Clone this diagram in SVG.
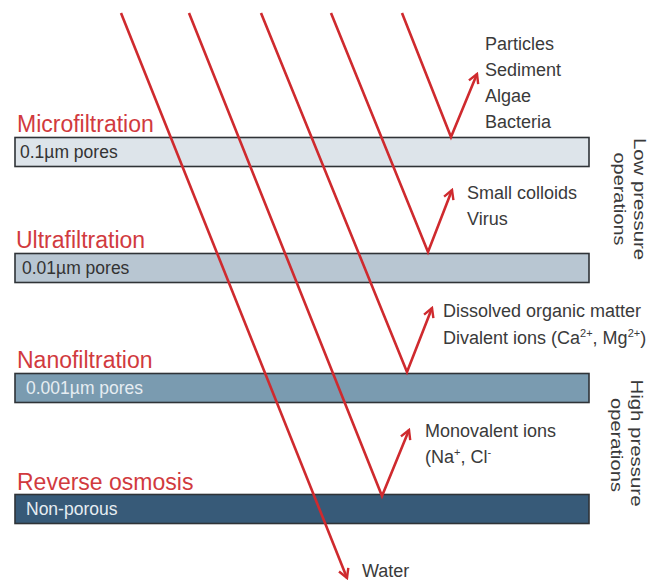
<svg xmlns="http://www.w3.org/2000/svg" width="659" height="582" viewBox="0 0 659 582">
<defs>
<style>
.bar{stroke:#2f3337;stroke-width:1.6}
.title{font-family:"Liberation Sans",Arial,sans-serif;font-size:23px;fill:#d13a3e}
.pore{font-family:"Liberation Sans",Arial,sans-serif;font-size:17.5px}
.lbl{font-family:"Liberation Sans",Arial,sans-serif;font-size:18px;fill:#3a3a3a}
.side{font-family:"Liberation Sans",Arial,sans-serif;font-size:16px;fill:#3a3a3a}
.ray{stroke:#cf2a2e;stroke-width:2.6;fill:none}
.sup{font-size:11px}
</style>
<marker id="ah" viewBox="0 0 12 12" refX="10" refY="6" markerWidth="12" markerHeight="12" markerUnits="userSpaceOnUse" orient="auto">
<path d="M1,1 L10,6 L1,11" fill="none" stroke="#cf2a2e" stroke-width="2.4" stroke-linejoin="miter"/>
</marker>
</defs>
<rect width="659" height="582" fill="#ffffff"/>

<g id="microfiltration">
<text class="title" x="17" y="132">Microfiltration</text>
<rect class="bar" x="15" y="137.5" width="574" height="29" fill="#dde4ea"/>
<text class="pore" x="20" y="158" fill="#333333">0.1µm pores</text>
</g>
<g id="ultrafiltration">
<text class="title" x="16" y="248">Ultrafiltration</text>
<rect class="bar" x="15" y="253.5" width="574" height="29" fill="#b8c6d2"/>
<text class="pore" x="22" y="274" fill="#333333">0.01µm pores</text>
</g>
<g id="nanofiltration">
<text class="title" x="17" y="368">Nanofiltration</text>
<rect class="bar" x="15" y="373.5" width="574" height="29" fill="#7a9bb0"/>
<text class="pore" x="26" y="394" fill="#e6edf2">0.001µm pores</text>
</g>
<g id="reverse-osmosis">
<text class="title" x="17" y="490">Reverse osmosis</text>
<rect class="bar" x="15" y="494.5" width="574" height="29" fill="#375a78"/>
<text class="pore" x="26" y="515" fill="#e6edf2">Non-porous</text>
</g>

<g id="connectors">
<line class="ray" x1="121" y1="13" x2="347" y2="578" marker-end="url(#ah)"/>
<polyline class="ray" points="189,13 382,496 409,430" marker-end="url(#ah)"/>
<polyline class="ray" points="261,13 407,372 432,308" marker-end="url(#ah)"/>
<polyline class="ray" points="331,13 428,252 452,190" marker-end="url(#ah)"/>
<polyline class="ray" points="402,13 451,137 477,74" marker-end="url(#ah)"/>
</g>

<g id="label-mf">
<text class="lbl" x="485" y="50">Particles</text>
<text class="lbl" x="485" y="76">Sediment</text>
<text class="lbl" x="485" y="102">Algae</text>
<text class="lbl" x="485" y="128">Bacteria</text>
</g>
<g id="label-uf">
<text class="lbl" x="467" y="199">Small colloids</text>
<text class="lbl" x="467" y="225">Virus</text>
</g>
<g id="label-nf">
<text class="lbl" x="443" y="317">Dissolved organic matter</text>
<text class="lbl" x="443" y="344">Divalent ions (Ca<tspan class="sup" dy="-7">2+</tspan><tspan dy="7">, Mg</tspan><tspan class="sup" dy="-7">2+</tspan><tspan dy="7">)</tspan></text>
</g>
<g id="label-ro">
<text class="lbl" x="425" y="437">Monovalent ions</text>
<text class="lbl" x="425" y="463">(Na<tspan class="sup" dy="-7">+</tspan><tspan dy="7">, Cl</tspan><tspan class="sup" dy="-7">-</tspan></text>
</g>
<g id="label-water">
<text class="lbl" x="362" y="577">Water</text>
</g>

<g id="low-pressure">
<text class="side" transform="translate(634,199) rotate(90)" text-anchor="middle" textLength="122" lengthAdjust="spacingAndGlyphs">Low pressure</text>
<text class="side" transform="translate(614,199) rotate(90)" text-anchor="middle" textLength="93" lengthAdjust="spacingAndGlyphs">operations</text>
</g>
<g id="high-pressure">
<text class="side" transform="translate(631,443) rotate(90)" text-anchor="middle" textLength="127" lengthAdjust="spacingAndGlyphs">High pressure</text>
<text class="side" transform="translate(611,445) rotate(90)" text-anchor="middle" textLength="94" lengthAdjust="spacingAndGlyphs">operations</text>
</g>
</svg>
